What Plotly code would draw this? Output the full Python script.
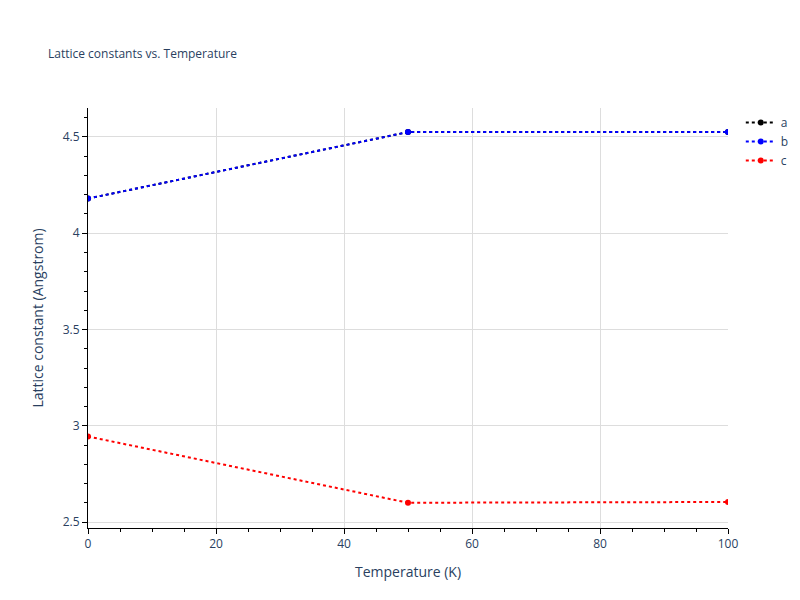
import plotly.graph_objects as go

temps = [0, 50, 100]
a_vals = [4.18, 4.525, 4.525]
b_vals = [4.18, 4.525, 4.525]
c_vals = [2.945, 2.601, 2.605]

fig = go.Figure()
for name, vals, col in [("a", a_vals, "black"), ("b", b_vals, "blue"), ("c", c_vals, "red")]:
    fig.add_trace(go.Scatter(x=temps, y=vals, name=name, mode="lines+markers",
                             line=dict(color=col, dash="dot", width=2), marker=dict(color=col, size=6)))

axis = dict(showline=True, linecolor="black", linewidth=1, ticks="outside", tickcolor="black",
            showgrid=True, gridcolor="#dddddd", zeroline=False,
            minor=dict(ticks="outside", tickcolor="black", showgrid=False))
fig.update_layout(
    width=800, height=600,
    title=dict(text="Lattice constants vs. Temperature", font=dict(size=12), x=0.05),
    plot_bgcolor="white", paper_bgcolor="white",
    margin=dict(l=80, r=80, t=100, b=80),
    xaxis=dict(title="Temperature (K)", range=[0, 100], dtick=20, **axis),
    yaxis=dict(title="Lattice constant (Angstrom)", range=[2.47, 4.65], dtick=0.5, **axis),
)
fig.write_html("out.html")
